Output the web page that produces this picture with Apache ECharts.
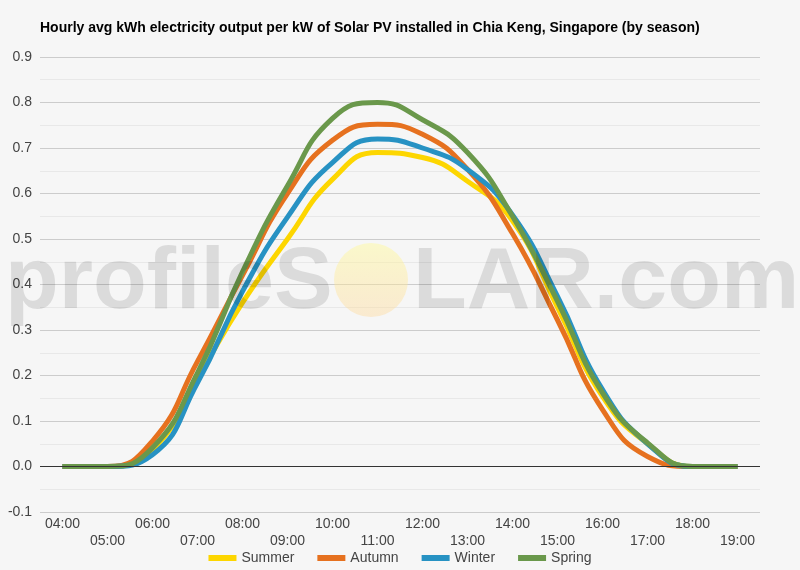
<!DOCTYPE html>
<html>
<head>
<meta charset="utf-8">
<script src="https://cdn.jsdelivr.net/npm/echarts@6/dist/echarts.min.js"></script>
<style>
  html, body { margin: 0; padding: 0; background: #f6f6f6; }
  #chart { width: 800px; height: 570px; }
</style>
</head>
<body>
<div id="chart"></div>
<script>
var hours = ['04:00', '05:00', '06:00', '07:00', '08:00', '09:00', '10:00', '11:00',
  '12:00', '13:00', '14:00', '15:00', '16:00', '17:00', '18:00', '19:00']
var summer = [0, 0, 0.037, 0.195, 0.36, 0.5, 0.631, 0.69, 0.679, 0.627, 0.54, 0.35, 0.154, 0.05, 0, 0]
var autumn = [0, 0, 0.056, 0.231, 0.42, 0.6, 0.717, 0.752, 0.73, 0.653, 0.512, 0.322, 0.125, 0.022, 0, 0]
var winter = [0, 0, 0.026, 0.184, 0.385, 0.548, 0.668, 0.72, 0.7, 0.653, 0.553, 0.374, 0.169, 0.05, 0, 0]
var spring = [0, 0, 0.041, 0.206, 0.428, 0.617, 0.765, 0.8, 0.762, 0.69, 0.55, 0.363, 0.162, 0.052, 0, 0]

var font = 'Liberation Sans, Arial, sans-serif'
var chart = echarts.init(document.getElementById('chart'))

function line(name, color, data) {
  return {
    name: name,
    type: 'line',
    smooth: true,
    showSymbol: false,
    data: data,
    lineStyle: { color: color, width: 5 },
    itemStyle: { color: color }
  }
}

var series = [
  line('Summer', '#fdd600', summer),
  line('Autumn', '#e6711f', autumn),
  line('Winter', '#2792c3', winter),
  line('Spring', '#6a984b', spring)
]
// zero line
series[0].markLine = {
  silent: true,
  symbol: 'none',
  label: { show: false },
  lineStyle: { color: '#333', width: 1, type: 'solid' },
  data: [{ yAxis: 0 }]
}

var options = {
  backgroundColor: '#f6f6f6',
  animation: false,
  textStyle: { fontFamily: font },
  title: {
    text: 'Hourly avg kWh electricity output per kW of Solar PV installed in Chia Keng, Singapore (by season)',
    left: 35,
    top: 16,
    textStyle: { fontSize: 14, fontWeight: 'bold', color: '#000', fontFamily: font }
  },
  grid: {
    left: 40,
    right: 40,
    top: 57,
    bottom: 58
  },
  legend: {
    bottom: 0,
    itemWidth: 28,
    itemHeight: 6,
    itemGap: 23,
    icon: 'rect',
    textStyle: { fontSize: 14, color: '#444' },
    data: ['Summer', 'Autumn', 'Winter', 'Spring']
  },
  xAxis: {
    type: 'category',
    boundaryGap: true,
    data: hours,
    axisLine: { show: false },
    axisTick: { show: false },
    axisLabel: {
      interval: 0,
      margin: 4,
      fontSize: 14,
      color: '#444',
      lineHeight: 17,
      formatter: function (v, i) {
        return i % 2 ? '\n' + v : v
      }
    }
  },
  yAxis: {
    type: 'value',
    min: -0.1,
    max: 0.9,
    interval: 0.1,
    axisLine: { show: false },
    axisTick: { show: false },
    axisLabel: {
      margin: 8,
      fontSize: 14,
      color: '#444',
      formatter: function (v) { return v.toFixed(1) }
    },
    splitLine: { lineStyle: { color: '#cccccc', width: 1 } },
    minorTick: { show: false, splitNumber: 2 },
    minorSplitLine: { show: true, lineStyle: { color: '#e8e8e8', width: 1 } }
  },
  graphic: [
    {
      type: 'circle',
      z: 100,
      silent: true,
      shape: { cx: 371, cy: 280, r: 37 },
      style: {
        fill: {
          type: 'linear', x: 0, y: 0, x2: 0, y2: 1,
          colorStops: [
            { offset: 0, color: 'rgba(255,250,150,0.45)' },
            { offset: 1, color: 'rgba(255,215,150,0.4)' }
          ]
        }
      }
    },
    {
      type: 'text',
      z: 100,
      silent: true,
      style: {
        x: 5, y: 284,
        text: 'profileS',
        fontSize: 88,
        fontWeight: 'bold',
        fontFamily: font,
        verticalAlign: 'middle',
        fill: 'rgba(0,0,0,0.11)'
      }
    },
    {
      type: 'text',
      z: 100,
      silent: true,
      style: {
        x: 413, y: 284,
        text: 'LAR.com',
        fontSize: 88,
        fontWeight: 'bold',
        fontFamily: font,
        verticalAlign: 'middle',
        fill: 'rgba(0,0,0,0.11)'
      }
    }
  ],
  series: series
}
chart.setOption(options)
</script>
</body>
</html>
